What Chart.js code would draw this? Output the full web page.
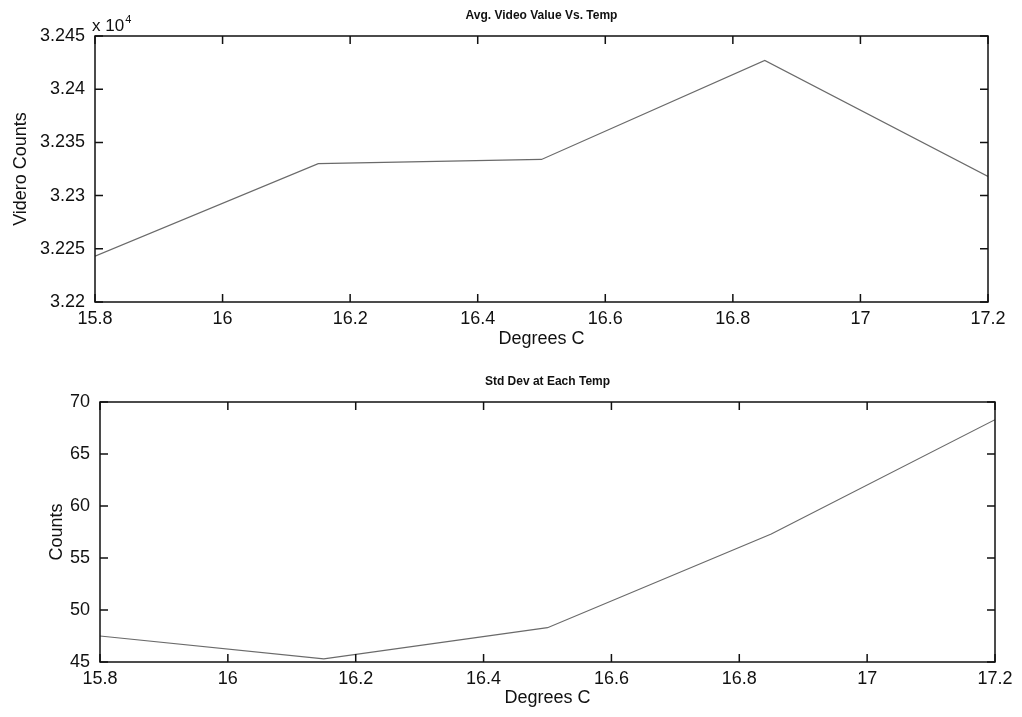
<!DOCTYPE html>
<html>
<head>
<meta charset="utf-8">
<script src="https://cdn.jsdelivr.net/npm/chart.js@4"></script>
<style>
  body { margin: 0; background: #fff; }
  .plot { position: absolute; left: 0; width: 1022px; }
</style>
</head>
<body>
<div class="plot" style="top:0;height:360px"><canvas id="avgChart"></canvas></div>
<div class="plot" style="top:360px;height:357px"><canvas id="stdChart"></canvas></div>
<script>
// temperatures (deg C)
const temps = [15.8, 16.15, 16.5, 16.85, 17.2]
// average video counts at each temp
const avgCounts = [32243, 32330, 32334, 32427, 32318]
// std dev of counts at each temp
const stdCounts = [47.5, 45.3, 48.3, 57.3, 68.3]

const xTicks = [15.8, 16, 16.2, 16.4, 16.6, 16.8, 17, 17.2]
const avgTicks = [32200, 32250, 32300, 32350, 32400, 32450]
const stdTicks = [45, 50, 55, 60, 65, 70]

const FONT = "'Liberation Sans', Arial, sans-serif"

// matlab style box, inward ticks, title centred over the axes
const matlabBox = {
  id: 'matlabBox',
  afterDraw (chart, args, opts) {
    const ctx = chart.ctx
    const a = chart.chartArea
    const xs = chart.scales.x
    const ys = chart.scales.y
    ctx.save()
    ctx.strokeStyle = '#111'
    ctx.lineWidth = 1.5
    ctx.strokeRect(a.left, a.top, a.right - a.left, a.bottom - a.top)
    ctx.beginPath()
    xs.ticks.forEach(t => {
      const px = xs.getPixelForValue(t.value)
      ctx.moveTo(px, a.bottom); ctx.lineTo(px, a.bottom - 8)
      ctx.moveTo(px, a.top); ctx.lineTo(px, a.top + 8)
    })
    ys.ticks.forEach(t => {
      const py = ys.getPixelForValue(t.value)
      ctx.moveTo(a.left, py); ctx.lineTo(a.left + 8, py)
      ctx.moveTo(a.right, py); ctx.lineTo(a.right - 8, py)
    })
    ctx.stroke()

    ctx.fillStyle = '#111'
    ctx.font = 'bold 12px ' + FONT
    ctx.textAlign = 'center'
    ctx.textBaseline = 'alphabetic'
    ctx.fillText(opts.title, (a.left + a.right) / 2, a.top - opts.titleGap)

    if (opts.exponent) {
      ctx.textAlign = 'left'
      ctx.font = '17px ' + FONT
      ctx.fillText('x 10', a.left - 3, a.top - 5)
      const w = ctx.measureText('x 10').width
      ctx.font = '11px ' + FONT
      ctx.fillText('4', a.left - 3 + w + 1, a.top - 13)
    }
    ctx.restore()
  }
}

function makeChart (id, ys, yTicks, opt) {
  return new Chart(document.getElementById(id), {
    type: 'scatter',
    data: {
      datasets: [{
        data: temps.map((t, i) => ({ x: t, y: ys[i] })),
        showLine: true,
        borderColor: '#6a6a6a',
        borderWidth: 1.2,
        pointRadius: 0,
        tension: 0
      }]
    },
    options: {
      responsive: true,
      maintainAspectRatio: false,
      animation: false,
      layout: { padding: { left: opt.padLeft, right: opt.padRight, top: opt.padTop, bottom: 0 } },
      plugins: {
        legend: { display: false },
        tooltip: { enabled: false },
        title: { display: false },
        matlabBox: { exponent: opt.exponent, title: opt.title, titleGap: opt.titleGap }
      },
      scales: {
        x: {
          type: 'linear',
          min: 15.8,
          max: 17.2,
          afterBuildTicks: s => { s.ticks = xTicks.map(v => ({ value: v })) },
          afterFit: s => { s.height = opt.xHeight },
          grid: { display: false, drawTicks: false },
          border: { display: false },
          ticks: {
            color: '#111',
            font: { family: FONT, size: 18 },
            padding: 6,
            maxRotation: 0,
            autoSkip: false,
            callback: v => String(Math.round(v * 10) / 10)
          },
          title: {
            display: true,
            text: 'Degrees C',
            color: '#111',
            font: { family: FONT, size: 18 },
            padding: { top: 0, bottom: opt.xTitleBottom }
          }
        },
        y: {
          type: 'linear',
          min: yTicks[0],
          max: yTicks[yTicks.length - 1],
          afterBuildTicks: s => { s.ticks = yTicks.map(v => ({ value: v })) },
          afterFit: s => { s.width = opt.yWidth },
          grid: { display: false, drawTicks: false },
          border: { display: false },
          ticks: {
            color: '#111',
            font: { family: FONT, size: 18 },
            padding: 10,
            autoSkip: false,
            callback: opt.yFormat
          },
          title: {
            display: true,
            text: opt.yTitle,
            color: '#111',
            font: { family: FONT, size: 18 },
            padding: { top: 0, bottom: 0 }
          }
        }
      }
    },
    plugins: [matlabBox]
  })
}

makeChart('avgChart', avgCounts, avgTicks, {
  title: 'Avg. Video Value Vs. Temp',
  yTitle: 'Videro Counts',
  yFormat: v => String(Math.round(v / 10) / 1000),
  exponent: true,
  padLeft: 10,
  padRight: 34,
  padTop: 36,
  titleGap: 17,
  yWidth: 85,
  xHeight: 58,
  xTitleBottom: 10
})

makeChart('stdChart', stdCounts, stdTicks, {
  title: 'Std Dev at Each Temp',
  yTitle: 'Counts',
  yFormat: v => String(v),
  exponent: false,
  padLeft: 46,
  padRight: 27,
  padTop: 42,
  titleGap: 17,
  yWidth: 54,
  xHeight: 55,
  xTitleBottom: 8
})
</script>
</body>
</html>
